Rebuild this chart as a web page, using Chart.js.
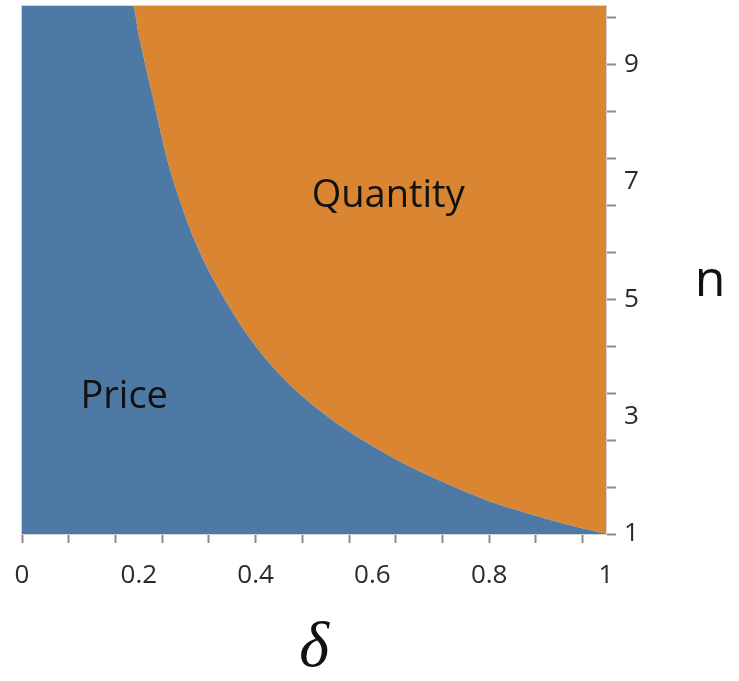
<!DOCTYPE html>
<html>
<head>
<meta charset="utf-8">
<script src="https://cdn.jsdelivr.net/npm/chart.js@4.4.1/dist/chart.umd.min.js"></script>
<style>
  html, body { margin: 0; padding: 0; background: #fff; }
</style>
</head>
<body>
<canvas id="myChart" width="739" height="681"></canvas>
<script>
// boundary between the two regions: n as a function of delta
const deltas = [0, 0.19, 0.2, 0.225, 0.25, 0.275, 0.3, 0.35, 0.4, 0.45, 0.5, 0.55, 0.6, 0.65, 0.7, 0.75, 0.8, 0.85, 0.9, 0.95, 1];
const boundaryN = [10, 10, 9.5, 8.4, 7.33, 6.55, 5.9, 4.95, 4.2, 3.63, 3.18, 2.81, 2.5, 2.22, 1.98, 1.76, 1.56, 1.4, 1.25, 1.12, 1];

// axis ticks
const xTickMarks = [0, 0.08, 0.16, 0.24, 0.32, 0.4, 0.48, 0.56, 0.64, 0.72, 0.8, 0.88, 0.96];
const xTickLabels = [0, 0.2, 0.4, 0.6, 0.8, 1];
const yTickMarks = [1, 1.8, 2.6, 3.4, 4.2, 5, 5.8, 6.6, 7.4, 8.2, 9, 9.8];
const yTickLabels = [1, 3, 5, 7, 9];

const regionNames = ['Price', 'Quantity'];

const BLUE = '#4e79a5';
const ORANGE = '#da8532';
const points = deltas.map((d, i) => ({ x: d, y: boundaryN[i] }));

const setTicks = values => scale => {
    scale.ticks = values.map(v => ({ value: v }));
};

// fixed axis sizes, no extra label padding around the plot
const fixSize = (w, h) => scale => {
    if (w !== null) scale.width = w;
    if (h !== null) scale.height = h;
    scale.paddingTop = 0;
    scale.paddingBottom = 0;
    scale.paddingLeft = 0;
    scale.paddingRight = 0;
};

// region names + the "n" axis name
const textPlugin = {
    id: 'regionText',
    afterDatasetsDraw(chart) {
        const { ctx, scales, chartArea } = chart;
        const spots = [
            { text: regionNames[0], x: 0.175, y: 3.15 },
            { text: regionNames[1], x: 0.627, y: 6.57 }
        ];
        ctx.save();
        ctx.strokeStyle = '#d4d4d4';
        ctx.lineWidth = 1;
        ctx.strokeRect(chartArea.left - 0.5, chartArea.top - 0.5, chartArea.width + 1, chartArea.height + 1);
        ctx.fillStyle = '#111';
        ctx.font = '38px "Open Sans"';
        ctx.textAlign = 'center';
        ctx.textBaseline = 'alphabetic';
        spots.forEach(s => {
            ctx.fillText(s.text, scales.x.getPixelForValue(s.x), scales.y.getPixelForValue(s.y));
        });
        ctx.font = '50px "Open Sans"';
        ctx.textBaseline = 'middle';
        ctx.fillText('n', 710, scales.y.getPixelForValue(5.3));
        ctx.restore();
    }
};

const ctx = document.getElementById('myChart').getContext('2d');

new Chart(ctx, {
    type: 'line',
    data: {
        datasets: [
            {
                label: 'Price',
                data: points,
                fill: 'start',
                backgroundColor: BLUE,
                borderWidth: 0,
                pointRadius: 0,
                cubicInterpolationMode: 'monotone'
            },
            {
                label: 'Quantity',
                data: points,
                fill: 'end',
                backgroundColor: ORANGE,
                borderWidth: 0,
                pointRadius: 0,
                cubicInterpolationMode: 'monotone'
            }
        ]
    },
    options: {
        responsive: false,
        animation: false,
        layout: { padding: { left: 22, top: 6, right: 0, bottom: 0 } },
        plugins: {
            legend: { display: false },
            tooltip: { enabled: false }
        },
        scales: {
            x: {
                type: 'linear',
                position: 'bottom',
                min: 0,
                max: 1,
                weight: 0,
                afterBuildTicks: setTicks(xTickMarks),
                afterFit: fixSize(null, 9),
                ticks: { display: false, autoSkip: false },
                grid: { display: true, drawOnChartArea: false, drawTicks: true, tickLength: 9, tickColor: '#8c8c8c', tickWidth: 2 },
                border: { display: true, color: '#9a9a9a', width: 2 }
            },
            x2: {
                type: 'linear',
                position: 'bottom',
                min: 0,
                max: 1,
                weight: 1,
                afterBuildTicks: setTicks(xTickLabels),
                afterFit: fixSize(null, 138),
                ticks: {
                    autoSkip: false,
                    maxRotation: 0,
                    padding: 17,
                    color: '#2a2a2a',
                    font: { family: 'Open Sans', size: 26 },
                    callback: v => String(v)
                },
                grid: { display: false, drawTicks: false },
                border: { display: false },
                title: {
                    display: true,
                    text: 'δ',
                    color: '#111',
                    padding: { top: 0, bottom: 0 },
                    font: { family: 'Liberation Serif', style: 'italic', size: 64, lineHeight: 1 }
                }
            },
            y: {
                type: 'linear',
                position: 'right',
                min: 1,
                max: 10,
                weight: 0,
                afterBuildTicks: setTicks(yTickMarks),
                afterFit: fixSize(10, null),
                ticks: { display: false, autoSkip: false },
                grid: { display: true, drawOnChartArea: false, drawTicks: true, tickLength: 10, tickColor: '#8c8c8c', tickWidth: 2 },
                border: { display: true, color: '#e2cdb6', width: 1 }
            },
            y2: {
                type: 'linear',
                position: 'right',
                display: true,
                min: 1,
                max: 10,
                weight: 1,
                afterBuildTicks: setTicks(yTickLabels),
                afterFit: fixSize(123, null),
                ticks: {
                    autoSkip: false,
                    padding: 8,
                    color: '#2a2a2a',
                    font: { family: 'Open Sans', size: 26 },
                    callback: v => String(v)
                },
                grid: { display: false, drawTicks: false },
                border: { display: false }
            }
        }
    },
    plugins: [textPlugin]
});
</script>
</body>
</html>
